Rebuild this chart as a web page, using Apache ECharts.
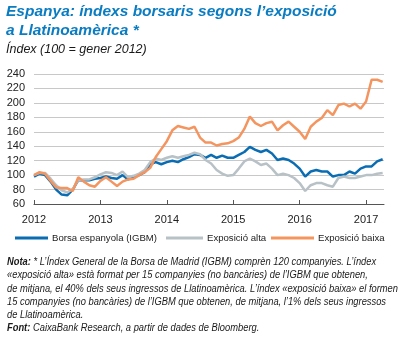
<!DOCTYPE html>
<html><head><meta charset="utf-8">
<script src="https://cdn.jsdelivr.net/npm/echarts@6/dist/echarts.min.js"></script>
<style>html,body{margin:0;padding:0;background:#fff}#c{width:404px;height:338px}</style>
</head><body><div id="c"></div>
<script>
const months = [
 '2012-01','2012-02','2012-03','2012-04','2012-05','2012-06','2012-07','2012-08','2012-09','2012-10','2012-11','2012-12',
 '2013-01','2013-02','2013-03','2013-04','2013-05','2013-06','2013-07','2013-08','2013-09','2013-10','2013-11','2013-12',
 '2014-01','2014-02','2014-03','2014-04','2014-05','2014-06','2014-07','2014-08','2014-09','2014-10','2014-11','2014-12',
 '2015-01','2015-02','2015-03','2015-04','2015-05','2015-06','2015-07','2015-08','2015-09','2015-10','2015-11','2015-12',
 '2016-01','2016-02','2016-03','2016-04','2016-05','2016-06','2016-07','2016-08','2016-09','2016-10','2016-11','2016-12',
 '2017-01','2017-02','2017-03','2017-04'];
const igbm = [
 98,102,100,91,80,73,72,80,93,93,93,95,
 96,98,96,95,100,94,97,100,104,115,118,115,
 118,120,118,122,125,129,128,124,128,124,127,124,
 124,128,132,139,135,132,135,130,121,123,121,116,
 109,98,105,107,105,105,98,100,100,105,102,109,
 112,112,119,122];
const alta = [
 100,103,103,95,86,79,76,81,93,94,94,97,
 101,104,103,100,105,97,99,102,107,118,123,121,
 124,126,124,126,128,131,129,121,116,107,102,99,
 100,109,119,123,119,114,116,109,100,102,100,96,
 89,78,86,89,89,86,84,96,98,96,96,98,
 100,100,102,103];
const baixa = [
 100,104,102,92,83,82,82,78,97,91,86,84,
 92,97,91,85,91,94,95,100,104,110,125,136,
 147,162,168,166,164,167,152,145,145,141,143,144,
 147,152,164,181,172,168,172,174,162,169,174,167,
 160,150,167,174,179,190,183,197,199,195,199,192,
 202,232,232,229];
const yearTicks = [2012,2013,2014,2015,2016,2017];
const seriesNames = ['Borsa espanyola (IGBM)','Exposició alta','Exposició baixa'];
const seriesColors = ['#0a6db3','#b7c1c6','#f4955f'];
const titleText = 'Espanya: índexs borsaris segons l’exposició\na Llatinoamèrica *';
const subtitleText = 'Índex (100 = gener 2012)';
const noteLines = [
 '{b|Nota:} * L’Índex General de la Borsa de Madrid (IGBM) comprèn 120 companyies. L’índex',
 '«exposició alta» està format per 15 companyies (no bancàries) de l’IGBM que obtenen,',
 'de mitjana, el 40% dels seus ingressos de Llatinoamèrica. L’índex «exposició baixa» el formen',
 '15 companyies (no bancàries) de l’IGBM que obtenen, de mitjana, l’1% dels seus ingressos',
 'de Llatinoamèrica.',
 '{b|Font:} CaixaBank Research, a partir de dades de Bloomberg.'
];

const SANS = "'Liberation Sans',Arial,sans-serif";
const NOTE_SIZE = 10.5;

// horizontal condensing of the note text so the longest line fits like the reference
const ctx = document.createElement('canvas').getContext('2d');
ctx.font = 'italic ' + NOTE_SIZE + 'px ' + SANS;
const plain = noteLines[2].replace(/\{b\|([^}]*)\}/g,'$1');
const noteScale = 391 / ctx.measureText(plain).width;

function toYear(m){ const [y,mo]=m.split('-').map(Number); return y+(mo-1)/12; }
const mk = arr => months.map((m,i)=>[toYear(m), arr[i]]);
const seriesData = [igbm, alta, baixa];

const chart = echarts.init(document.getElementById('c'), null, {renderer:'canvas'});
chart.setOption({
  animation:false,
  backgroundColor:'#fff',
  title:[
    {text:titleText, left:6, top:2, padding:0, textStyle:{fontFamily:SANS, fontSize:15.5, fontWeight:'bold', fontStyle:'italic', color:'#0a7cc2', lineHeight:19}},
    {text:subtitleText, left:6, top:43, padding:0, textStyle:{fontFamily:SANS, fontSize:12.5, fontWeight:'normal', fontStyle:'italic', color:'#1a1a1a'}}
  ],
  grid:{left:34, right:20, top:74, bottom:134, containLabel:false},
  xAxis:{type:'value', min:2012, max:2017.27,
    axisLine:{show:true, lineStyle:{color:'#555', width:1}},
    axisTick:{show:true, inside:true, length:4, lineStyle:{color:'#555'}, customValues:yearTicks},
    axisLabel:{customValues:yearTicks, formatter:v=>String(v), fontFamily:SANS, fontSize:11, color:'#222', margin:10},
    splitLine:{show:false}},
  yAxis:{type:'value', min:60, max:240, interval:20,
    axisLine:{show:false}, axisTick:{show:false},
    axisLabel:{fontFamily:SANS, fontSize:11, color:'#222', margin:9},
    splitLine:{show:true, lineStyle:{color:'#c8c8c8', width:1}}},
  legend: seriesNames.map((n,i)=>({
    data:[n], left:[15,166,271][i], top:233, padding:0, icon:'rect',
    itemWidth:[33,37,43][i], itemHeight:3, itemGap:0,
    textStyle:{fontFamily:SANS, fontSize:9.6, color:'#222', padding:[0,0,0,-1]}
  })),
  series: seriesNames.map((n,i)=>({
    name:n, type:'line', data:mk(seriesData[i]), showSymbol:false, symbol:'none',
    lineStyle:{color:seriesColors[i], width:2.5}, itemStyle:{color:seriesColors[i]}, z:2+i
  })),
  graphic: noteLines.map((t,i)=>({
    type:'text', x:7, y:262+i*13.3, scaleX:noteScale,
    style:{text:t, fontFamily:SANS, fontSize:NOTE_SIZE, fontStyle:'italic', fill:'#1a1a1a', verticalAlign:'middle',
      rich:{b:{fontWeight:'bold', fontStyle:'italic', fontFamily:SANS, fontSize:NOTE_SIZE, fill:'#1a1a1a'}}}
  }))
});
</script></body></html>
